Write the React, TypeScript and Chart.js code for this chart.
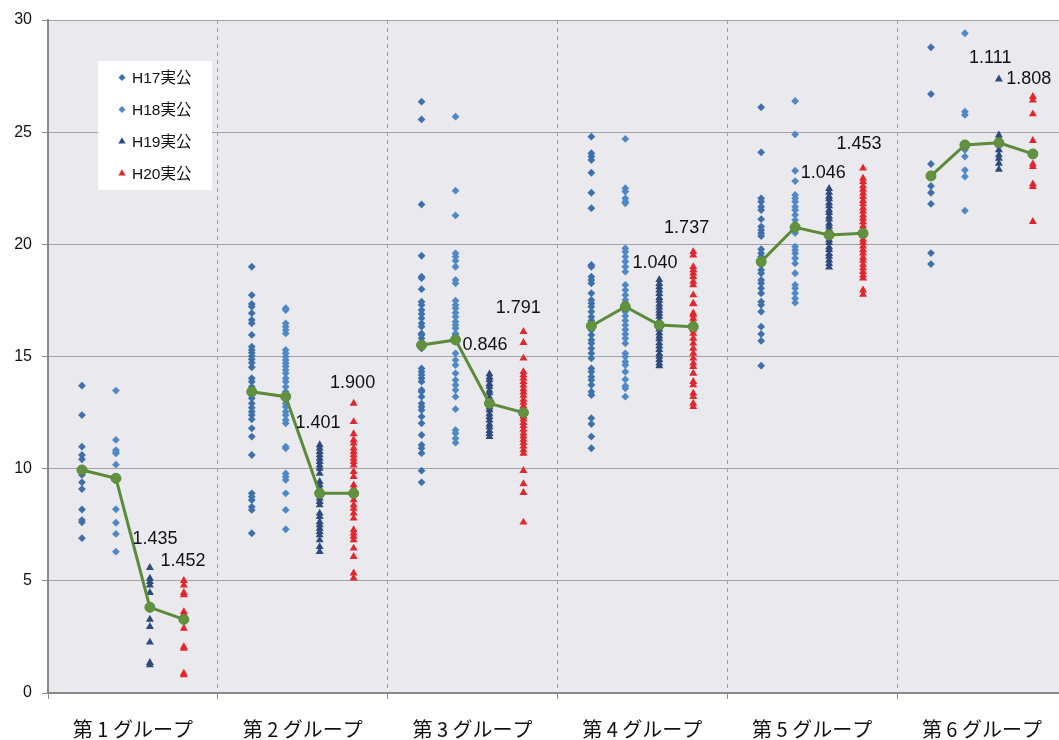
import React, { useEffect, useRef } from 'react';
import { Chart, registerables } from 'chart.js';

Chart.register(...registerables);

const categories = ['第 1 グループ', '第 2 グループ', '第 3 グループ', '第 4 グループ', '第 5 グループ', '第 6 グループ'];
const seriesNames = ['H17実公', 'H18実公', 'H19実公', 'H20実公'];

const h17 = [
  [13.70, 12.39, 10.98, 10.61, 10.42, 9.94, 9.72, 9.39, 9.09, 8.18, 7.71, 7.61, 6.90],
  [19.0, 17.74, 17.34, 17.22, 16.93, 16.63, 16.48, 15.96, 15.44, 15.29, 15.17, 15.02, 14.88, 14.72, 14.52, 14.03, 13.88, 13.65, 13.43, 13.28, 13.14, 12.91, 12.72, 12.54, 12.39, 12.20, 11.80, 11.43, 10.61, 8.90, 8.75, 8.60, 8.30, 8.16, 7.12],
  [26.36, 25.57, 21.78, 19.49, 18.56, 18.49, 18.00, 17.44, 17.30, 17.07, 16.90, 16.70, 16.48, 16.33, 16.03, 15.81, 15.96, 15.51, 15.36, 14.47, 14.32, 14.18, 14.03, 13.88, 13.51, 13.43, 13.21, 12.91, 12.76, 12.61, 12.32, 12.02, 11.50, 11.06, 10.91, 10.69, 9.91, 9.39],
  [24.80, 24.06, 23.91, 23.76, 23.19, 22.30, 21.61, 19.08, 19.00, 18.56, 18.41, 18.26, 17.82, 17.52, 17.37, 17.22, 17.00, 16.77, 16.60, 16.50, 16.40, 16.30, 16.18, 15.96, 15.74, 15.59, 15.36, 15.14, 14.92, 14.47, 14.32, 14.10, 13.95, 13.73, 13.43, 13.28, 12.25, 11.99, 11.43, 10.91],
  [26.11, 24.10, 22.05, 21.90, 21.68, 21.53, 21.12, 20.79, 20.64, 20.49, 20.37, 19.78, 19.60, 19.45, 19.23, 19.08, 18.86, 18.71, 18.41, 18.26, 18.04, 17.82, 17.44, 17.30, 17.00, 16.33, 16.00, 15.70, 14.59],
  [28.78, 26.70, 23.58, 23.05, 22.60, 22.30, 21.80, 19.61, 19.12],
];

const h18 = [
  [13.48, 11.28, 10.83, 10.74, 10.68, 10.18, 9.57, 9.49, 8.19, 7.59, 7.09, 6.30],
  [17.15, 17.07, 16.48, 16.33, 16.18, 16.03, 15.29, 15.14, 14.99, 14.84, 14.70, 14.55, 14.40, 14.25, 14.03, 13.88, 13.65, 13.43, 13.21, 13.06, 12.91, 12.76, 12.54, 12.39, 12.17, 12.02, 10.98, 10.91, 9.79, 9.64, 9.50, 8.90, 8.16, 7.30],
  [25.69, 22.39, 21.29, 19.60, 19.45, 19.27, 19.00, 18.41, 18.26, 17.49, 17.30, 17.15, 16.95, 16.77, 16.55, 16.40, 16.26, 16.03, 15.96, 15.85, 15.74, 15.14, 14.84, 14.62, 14.25, 13.95, 13.73, 13.51, 13.21, 12.65, 11.72, 11.58, 11.35, 11.16],
  [24.70, 22.50, 22.35, 22.05, 21.90, 21.83, 19.82, 19.67, 19.45, 19.23, 19.00, 18.78, 18.19, 17.96, 17.74, 17.52, 17.30, 17.40, 17.20, 17.00, 16.80, 16.60, 16.40, 16.20, 16.00, 15.81, 15.59, 15.14, 14.99, 14.77, 14.62, 14.32, 13.98, 13.69, 13.58, 13.21],
  [26.39, 24.90, 23.28, 22.82, 22.20, 22.05, 21.90, 21.68, 21.53, 21.31, 21.08, 20.79, 20.70, 20.50, 19.90, 19.75, 19.60, 19.38, 19.15, 18.71, 18.19, 18.04, 17.82, 17.59, 17.40],
  [29.41, 25.91, 25.77, 24.43, 24.21, 23.91, 23.31, 23.02, 21.50],
];

const h19 = [
  [5.59, 5.11, 4.96, 4.81, 4.47, 3.85, 3.28, 2.96, 2.26, 1.35, 1.25],
  [11.06, 10.91, 10.76, 10.61, 10.46, 10.31, 10.16, 10.01, 9.79, 9.42, 9.27, 9.12, 8.97, 8.83, 8.68, 8.53, 8.38, 8.01, 7.86, 7.63, 7.49, 7.34, 7.19, 7.04, 6.82, 6.52, 6.30],
  [14.22, 14.08, 13.96, 13.78, 13.66, 13.49, 13.37, 13.18, 13.06, 12.91, 12.74, 12.62, 12.44, 12.31, 12.16, 11.98, 11.86, 11.69, 11.56, 11.42],
  [18.42, 18.25, 18.10, 17.96, 17.80, 17.62, 17.50, 17.33, 17.20, 17.05, 16.92, 16.78, 16.60, 16.48, 16.35, 16.22, 16.05, 15.90, 15.78, 15.60, 15.46, 15.30, 15.12, 15.00, 14.86, 14.70, 14.58],
  [22.48, 22.31, 22.14, 22.02, 21.84, 21.71, 21.53, 21.41, 21.24, 21.12, 20.93, 20.81, 20.66, 20.48, 20.36, 20.19, 20.07, 19.88, 19.76, 19.58, 19.46, 19.29, 19.14, 18.98],
  [27.36, 24.87, 24.73, 24.58, 24.43, 24.21, 23.98, 23.83, 23.61, 23.34],
];

const h20 = [
  [5.01, 4.81, 4.47, 4.37, 3.62, 3.51, 2.88, 2.06, 1.99, 0.88, 0.80],
  [12.91, 12.09, 11.55, 11.28, 11.13, 10.91, 10.76, 10.61, 10.46, 10.31, 10.16, 9.86, 9.64, 9.27, 9.12, 8.90, 8.60, 8.38, 8.23, 8.01, 7.79, 7.27, 7.12, 6.98, 6.82, 6.45, 6.08, 5.34, 5.12],
  [16.11, 15.62, 14.92, 14.32, 14.18, 14.03, 13.88, 13.72, 13.55, 13.41, 13.26, 13.08, 12.95, 12.80, 12.66, 12.50, 12.33, 12.20, 12.05, 11.91, 11.75, 11.58, 11.45, 11.30, 11.16, 11.00, 10.83, 10.68, 9.91, 9.32, 8.93, 7.61],
  [19.67, 19.52, 19.00, 18.86, 18.71, 18.56, 18.34, 18.19, 17.74, 17.37, 17.34, 16.93, 16.85, 16.70, 16.55, 16.33, 16.18, 16.03, 15.81, 15.59, 15.36, 15.14, 14.92, 14.70, 14.55, 14.25, 13.88, 13.73, 13.36, 13.21, 12.91, 12.76],
  [23.39, 22.94, 22.79, 22.60, 22.45, 22.28, 22.12, 21.95, 21.80, 21.62, 21.48, 21.30, 21.15, 21.00, 20.82, 20.68, 20.55, 20.40, 20.22, 20.08, 19.92, 19.75, 19.60, 19.42, 19.28, 19.10, 18.95, 18.78, 18.62, 18.49, 17.96, 17.77],
  [26.58, 26.43, 25.81, 24.62, 23.58, 23.46, 22.69, 22.57, 21.01],
];

const meanH17 = [9.94, 13.43, 15.51, 16.36, 19.23, 23.05];
const meanH18 = [9.57, 13.21, 15.74, 17.22, 20.76, 24.43];
const meanH19 = [3.82, 8.90, 12.91, 16.40, 20.42, 24.53];
const meanH20 = [3.28, 8.90, 12.50, 16.33, 20.49, 24.03];

const ratioLabels = ['1.435', '1.452', '1.401', '1.900', '0.846', '1.791', '1.040', '1.737', '1.046', '1.453', '1.111', '1.808'];
const ratioX = [0.630, 0.795, 1.590, 1.794, 2.574, 2.770, 3.575, 3.761, 4.566, 4.776, 5.549, 5.776];
const ratioY = [6.86, 5.90, 12.05, 13.83, 15.51, 17.15, 19.18, 20.71, 23.19, 24.46, 28.29, 27.37];

const yMin = 0;
const yMax = 30;
const yStep = 5;

const seriesColors = ['#3d70ad', '#4f88c6', '#2f4a7c', '#e3262d'];
const seriesStyles = ['rectRot', 'rectRot', 'triangle', 'triangle'];
const lineColor = '#5b8b3a';

const W = 1059;
const H = 740;

export default function App() {
  const ref = useRef<HTMLCanvasElement | null>(null);

  useEffect(() => {
    const canvas = ref.current;
    if (!canvas) return;
    const allSeries = [h17, h18, h19, h20];
    const means = [meanH17, meanH18, meanH19, meanH20];

    const scatterSets = allSeries.map((groups, s) => ({
      type: 'scatter' as const,
      label: seriesNames[s],
      data: groups.flatMap((vals, g) => vals.map((v) => ({ x: g + 0.2 * (s + 1), y: v }))),
      pointStyle: seriesStyles[s],
      pointRadius: s < 2 ? 3.9 : 4.6,
      pointHoverRadius: 4,
      backgroundColor: seriesColors[s],
      borderColor: seriesColors[s],
      borderWidth: 0,
    }));

    const lineData: { x: number; y: number | null }[] = [];
    categories.forEach((_, g) => {
      for (let s = 0; s < 4; s++) lineData.push({ x: g + 0.2 * (s + 1), y: means[s][g] });
      lineData.push({ x: g + 0.95, y: null });
    });

    const bgPlugin = {
      id: 'plotBg',
      beforeDraw(chart: any) {
        const { ctx, chartArea } = chart;
        ctx.save();
        ctx.fillStyle = '#eaeaee';
        ctx.fillRect(chartArea.left, chartArea.top, chartArea.right - chartArea.left, chartArea.bottom - chartArea.top);
        ctx.restore();
      },
    };

    const overlayPlugin = {
      id: 'overlay',
      afterDatasetsDraw(chart: any) {
        const { ctx, chartArea, scales } = chart;
        ctx.save();
        // ratio labels
        ctx.fillStyle = '#111';
        ctx.font = "18px 'Liberation Sans', Arial, sans-serif";
        ctx.textAlign = 'center';
        ctx.textBaseline = 'middle';
        ratioLabels.forEach((t, i) => {
          ctx.fillText(t, scales.x.getPixelForValue(ratioX[i]), scales.y.getPixelForValue(ratioY[i]));
        });
        // legend
        const bx = chartArea.left + 50;
        const by = chartArea.top + 41;
        ctx.fillStyle = '#ffffff';
        ctx.fillRect(bx, by, 114, 129);
        ctx.font = "15.5px 'Liberation Sans', 'Noto Sans CJK JP', sans-serif";
        ctx.textAlign = 'left';
        seriesNames.forEach((name, i) => {
          const cy = by + 16.5 + i * 32;
          const cx = bx + 24;
          ctx.fillStyle = seriesColors[i];
          ctx.beginPath();
          if (i < 2) {
            const r = 3.5;
            ctx.moveTo(cx, cy - r);
            ctx.lineTo(cx + r, cy);
            ctx.lineTo(cx, cy + r);
            ctx.lineTo(cx - r, cy);
          } else {
            const r = 4.2;
            ctx.moveTo(cx, cy - r);
            ctx.lineTo(cx + r * 0.866, cy + r * 0.5);
            ctx.lineTo(cx - r * 0.866, cy + r * 0.5);
          }
          ctx.closePath();
          ctx.fill();
          ctx.fillStyle = '#111';
          ctx.fillText(name, cx + 10, cy + 1);
        });
        ctx.restore();
      },
    };

    const chart = new Chart(canvas, {
      data: {
        datasets: [
          {
            type: 'line' as const,
            label: '平均',
            data: lineData,
            borderColor: lineColor,
            backgroundColor: lineColor,
            borderWidth: 3,
            pointRadius: 5,
            pointBackgroundColor: '#62913f',
            pointBorderColor: lineColor,
            pointBorderWidth: 1,
            spanGaps: false,
            tension: 0,
          },
          ...scatterSets,
        ] as any,
      },
      options: {
        animation: false,
        responsive: false,
        devicePixelRatio: 1,
        layout: { autoPadding: false, padding: { top: 20, left: 0, right: 0, bottom: 0 } },
        plugins: { legend: { display: false }, tooltip: { enabled: false } },
        scales: {
          x: {
            type: 'linear',
            min: 0,
            max: 5.954,
            afterBuildTicks(scale: any) {
              const t: { value: number }[] = [];
              for (let i = 0; i < categories.length; i++) {
                t.push({ value: i });
                t.push({ value: i + 0.5 });
              }
              scale.ticks = t;
            },
            afterFit(scale: any) {
              scale.height = 47;
              scale.paddingLeft = 0;
              scale.paddingRight = 0;
            },
            ticks: {
              autoSkip: false,
              maxRotation: 0,
              minRotation: 0,
              padding: 18,
              color: '#111',
              font: { family: "'Noto Sans CJK JP', sans-serif", size: 20 },
              callback: (v: any) => (Number.isInteger(v) ? '' : categories[Math.floor(v)]),
            },
            grid: {
              color: (c: any) => {
                const v = c.tick ? c.tick.value : 0;
                if (!Number.isInteger(v)) return 'rgba(0,0,0,0)';
                return v === 0 ? '#8a8a8a' : '#9c9c9c';
              },
              tickColor: (c: any) => {
                const v = c.tick ? c.tick.value : 0;
                return Number.isInteger(v) ? '#8a8a8a' : 'rgba(0,0,0,0)';
              },
              tickLength: 6,
              tickBorderDash: [],
              lineWidth: 1,
            },
            border: {
              display: true,
              color: '#8a8a8a',
              width: 2,
              dash: (c: any) => (c.tick && Number.isInteger(c.tick.value) && c.tick.value > 0 ? [4, 4] : []),
            },
          },
          y: {
            type: 'linear',
            min: yMin,
            max: yMax,
            afterFit(scale: any) {
              scale.width = 48;
            },
            ticks: {
              stepSize: yStep,
              padding: 10,
              color: '#111',
              font: { family: "'Liberation Sans', Arial, sans-serif", size: 16 },
            },
            grid: {
              color: '#a2a2a2',
              tickColor: '#8a8a8a',
              tickLength: 6,
              lineWidth: 1,
            },
            border: { display: true, color: '#8a8a8a', width: 2 },
          },
        },
      } as any,
      plugins: [bgPlugin, overlayPlugin],
    });
    return () => chart.destroy();
  }, []);

  return (
    <div style={{ position: 'fixed', left: 0, top: 0, width: W, height: H, background: '#fff' }}>
      <canvas ref={ref} width={W} height={H} style={{ width: W, height: H, display: 'block' }} />
    </div>
  );
}
